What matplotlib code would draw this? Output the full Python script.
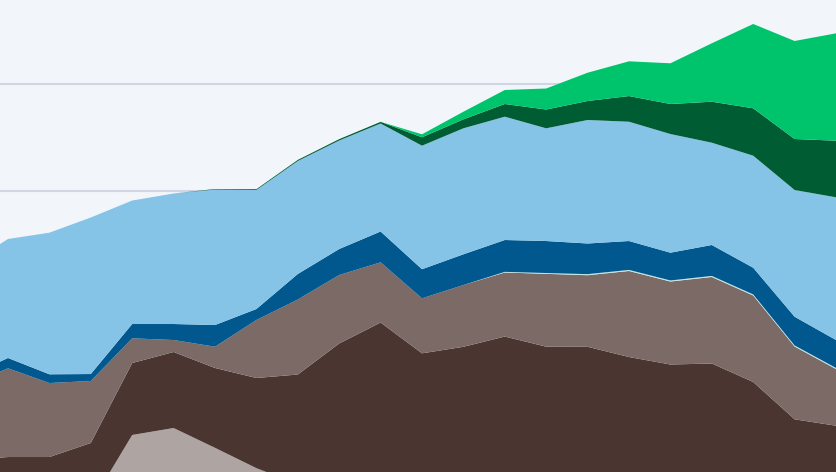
import matplotlib
matplotlib.use("Agg")
import matplotlib.pyplot as plt
import numpy as np

# x positions (index; point -1 lies just outside the visible area)
periods = list(range(-1, 21))

light_gray = [18, 18, 18, 21.5, 34.4, 35.7, 32.0, 28.2, 25.2, 22, 21, 20, 20, 20, 20, 20, 20, 20, 20, 20, 20, 20]
dark_brown = [11.72, 12.28, 12.28, 11.40, 13.45, 14.21, 14.92, 16.85, 20.50, 29.50, 34.42, 29.66, 30.88,
              32.80, 30.90, 30.88, 28.97, 27.57, 27.76, 24.30, 17.33, 16.13]
gray_brown = [13.83, 16.58, 13.83, 11.59, 4.62, 2.24, 3.98, 10.84, 14.02, 12.80, 11.25, 10.28, 11.55,
              11.97, 13.62, 13.38, 16.08, 15.51, 16.17, 16.17, 13.60, 10.60]
mint = [0, 0, 0, 0, 0, 0, 0, 0, 0, 0, 0, 0, 0, 0.12, 0.15, 0.2, 0.2, 0.2, 0.2, 0.2, 0.2, 0.2]
dark_blue = [1.68, 1.93, 1.63, 1.30, 2.67, 2.99, 4.05, 2.05, 4.77, 4.86, 5.76, 5.44, 5.74,
             5.95, 5.98, 5.73, 5.40, 5.19, 5.78, 4.99, 5.37, 5.22]
light_blue = [20.94, 22.24, 26.47, 29.26, 23.08, 24.39, 25.33, 22.25, 21.12, 20.28, 20.19, 23.09, 23.55,
              23.05, 21.07, 23.08, 22.30, 22.18, 19.12, 20.94, 23.69, 26.67]
dark_green = [0, 0, 0, 0, 0, 0, 0.1, 0.15, 0.2, 0.25, 0.3, 1.57, 1.68,
              2.37, 3.51, 3.55, 4.80, 5.61, 7.66, 8.86, 9.53, 10.58]
bright_green = [0, 0, 0, 0, 0, 0, 0, 0, 0, 0, 0, 0.56, 1.42,
                2.62, 3.93, 5.29, 6.49, 7.61, 10.92, 15.76, 18.32, 20.07]

colors = ["#aea5a3", "#4a3531", "#7b6a66", "#bfe9e3", "#00588f", "#85c4e7", "#005c33", "#00c46c"]

fig = plt.figure(figsize=(8.36, 4.72), dpi=100)
fig.patch.set_facecolor("#f2f6fa")
ax = fig.add_axes([0, 0, 1, 1])
ax.set_facecolor("#f2f6fa")

for gy in [40, 60, 80, 100]:
    ax.axhline(gy, color="#d0d6e4", linewidth=1.5, zorder=0)

ax.stackplot(periods, light_gray, dark_brown, gray_brown, mint, dark_blue, light_blue,
             dark_green, bright_green, colors=colors, linewidth=0, zorder=2)

ax.set_xlim(-8 / 41.4, 20)
ax.set_ylim(27.48, 115.70)
ax.axis("off")

fig.savefig("out.png", dpi=100, facecolor=fig.get_facecolor())
